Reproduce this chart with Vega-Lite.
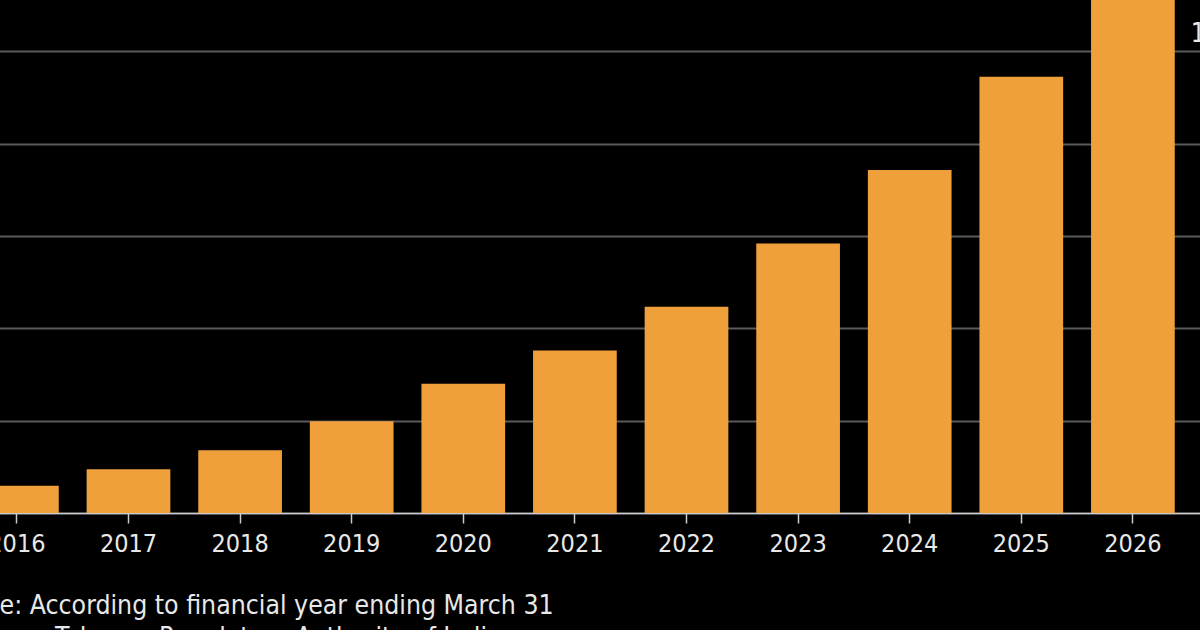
{
  "$schema": "https://vega.github.io/schema/vega-lite/v6.json",
  "autosize": {"type": "none"},
  "width": 1280,
  "height": 513,
  "padding": {"left": -40, "top": 0, "right": -40, "bottom": 117},
  "background": "#000000",
  "data": {"values": [
    {"year": "2016", "value": 5.9},
    {"year": "2017", "value": 9.5},
    {"year": "2018", "value": 13.6},
    {"year": "2019", "value": 19.9},
    {"year": "2020", "value": 28.0},
    {"year": "2021", "value": 35.2},
    {"year": "2022", "value": 44.7},
    {"year": "2023", "value": 58.4},
    {"year": "2024", "value": 74.3},
    {"year": "2025", "value": 94.5},
    {"year": "2026", "value": 118}
  ]},
  "title": {
    "text": ["Note: According to financial year ending March 31", "Source: Telecom Regulatory Authority of India"],
    "orient": "bottom",
    "anchor": "start",
    "frame": "group",
    "dx": -2,
    "offset": 37,
    "font": "DejaVu Sans Condensed, sans-serif",
    "fontSize": 26.4,
    "fontWeight": "normal",
    "color": "#e8e8e8",
    "lineHeight": 32
  },
  "mark": {"type": "bar", "color": "#f0a03b", "clip": true},
  "encoding": {
    "x": {
      "field": "year",
      "type": "ordinal",
      "scale": {"paddingInner": 0.25, "paddingOuter": 0.3597, "align": 0.1874, "round": false},
      "axis": {
        "title": null,
        "labelAngle": 0,
        "labelFont": "DejaVu Sans Condensed, sans-serif",
        "labelFontSize": 25,
        "labelColor": "#e8e8e8",
        "labelPadding": 8,
        "tickSize": 10,
        "tickColor": "#cccccc",
        "tickWidth": 1.5,
        "domainColor": "#cccccc",
        "domainWidth": 1.5,
        "grid": false
      }
    },
    "y": {
      "field": "value",
      "type": "quantitative",
      "scale": {"domain": [0, 111.15], "nice": false, "zero": true},
      "axis": {
        "orient": "right",
        "title": null,
        "values": [0, 20, 40, 60, 80, 100],
        "grid": true,
        "gridColor": "#5a5a5a",
        "gridWidth": 2,
        "domain": false,
        "ticks": false,
        "labelAlign": "right",
        "labelBaseline": "bottom",
        "labelOffset": -5,
        "labelPadding": -5,
        "labelFont": "DejaVu Sans Condensed, sans-serif",
        "labelFontSize": 26,
        "labelColor": "#e8e8e8"
      }
    }
  },
  "config": {"view": {"stroke": null}}
}
